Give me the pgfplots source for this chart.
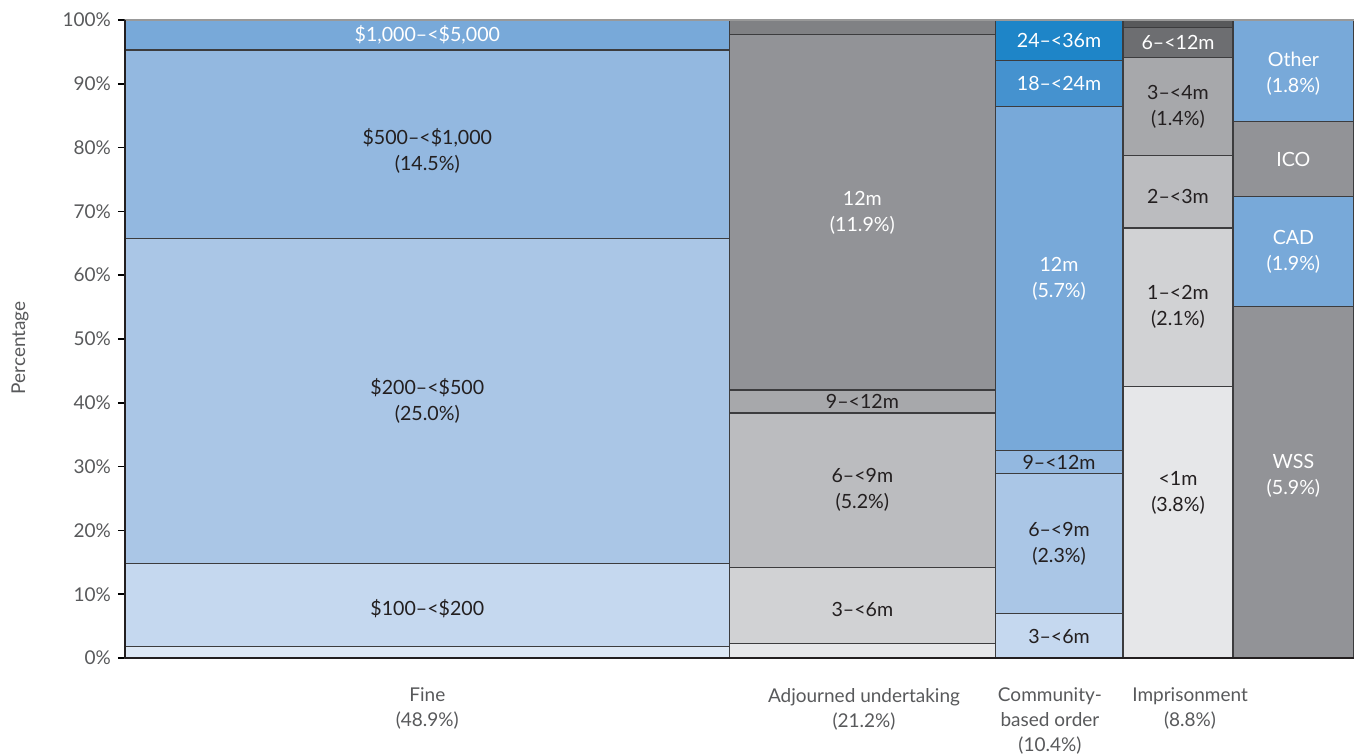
\documentclass[border=0pt]{standalone}
\usepackage{pgfplots}
\pgfplotsset{compat=1.18}
\usepackage{fontspec}
\setmainfont{Lato}
\definecolor{edgec}{HTML}{3C3C3E}
\definecolor{bA}{HTML}{DDE8F5}
\definecolor{bB}{HTML}{C5D8EF}
\definecolor{bC}{HTML}{AAC6E6}
\definecolor{bD}{HTML}{93B8E0}
\definecolor{bE}{HTML}{78A9D9}
\definecolor{bF}{HTML}{4592CF}
\definecolor{bG}{HTML}{1E85C8}
\definecolor{gA}{HTML}{E6E7E9}
\definecolor{gB}{HTML}{D1D2D4}
\definecolor{gC}{HTML}{BBBCBF}
\definecolor{gD}{HTML}{A7A8AB}
\definecolor{gE}{HTML}{929397}
\definecolor{gF}{HTML}{808184}
\definecolor{gG}{HTML}{6D6E71}
\definecolor{gH}{HTML}{58595B}
\definecolor{txt}{HTML}{231F20}
\definecolor{lbl}{HTML}{58595B}
\newcommand{\seg}[5]{\addplot[fill=#5, draw=edgec, line width=0.6pt] coordinates {(#1,#3) (#2,#3) (#2,#4) (#1,#4)} -- cycle;}
\begin{document}
\begin{tikzpicture}
\useasboundingbox (-62.5pt,-48.5pt) rectangle (614.5pt,329pt);
\begin{axis}[
  scale only axis, width=614.5pt, height=319pt,
  xmin=0, xmax=100, ymin=0, ymax=100,
  clip=false, no markers,
  axis line style={draw=none},
  font=\fontsize{9.5}{12.5}\selectfont,
  ytick={0,10,...,100},
  yticklabels={0\%,10\%,20\%,30\%,40\%,50\%,60\%,70\%,80\%,90\%,100\%},
  ytick pos=left, tick align=outside, major tick length=3.5pt,
  ytick style={black, line width=0.8pt},
  yticklabel style={text=lbl},
  xtick={24.6,60.13,75.26,86.66},
  xticklabels={{Fine\\(48.9\%)},{Adjourned undertaking\\(21.2\%)},{Community-\\based order\\(10.4\%)},{Imprisonment\\(8.8\%)}},
  xticklabel style={align=center, text=lbl, anchor=north, yshift=-8pt},
  xtick style={draw=none},
  ylabel={Percentage},
  ylabel style={at={(axis description cs:-0.0854,0.486)}, anchor=center, text=lbl},
]
% Fine
\seg{0}{49.2}{0}{1.8}{bA}
\seg{0}{49.2}{1.8}{14.8}{bB}
\seg{0}{49.2}{14.8}{65.7}{bC}
\seg{0}{49.2}{65.7}{95.3}{bD}
\seg{0}{49.2}{95.3}{100}{bE}
% Adjourned undertaking
\seg{49.2}{70.8}{0}{2.3}{gA}
\seg{49.2}{70.8}{2.3}{14.2}{gB}
\seg{49.2}{70.8}{14.2}{38.4}{gC}
\seg{49.2}{70.8}{38.4}{42.0}{gD}
\seg{49.2}{70.8}{42.0}{97.7}{gE}
\seg{49.2}{70.8}{97.7}{100}{gF}
% Community-based order
\seg{70.8}{81.2}{0}{7.0}{bB}
\seg{70.8}{81.2}{7.0}{28.9}{bC}
\seg{70.8}{81.2}{28.9}{32.5}{bD}
\seg{70.8}{81.2}{32.5}{86.4}{bE}
\seg{70.8}{81.2}{86.4}{93.6}{bF}
\seg{70.8}{81.2}{93.6}{100}{bG}
% Imprisonment
\seg{81.2}{90.15}{0}{42.6}{gA}
\seg{81.2}{90.15}{42.6}{67.4}{gB}
\seg{81.2}{90.15}{67.4}{78.8}{gC}
\seg{81.2}{90.15}{78.8}{94.1}{gD}
\seg{81.2}{90.15}{94.1}{98.8}{gG}
\seg{81.2}{90.15}{98.8}{100}{gH}
% Other orders
\seg{90.15}{100}{0}{55.1}{gE}
\seg{90.15}{100}{55.1}{72.3}{bE}
\seg{90.15}{100}{72.3}{84.1}{gE}
\seg{90.15}{100}{84.1}{100}{bE}
% axis lines
\draw[gray!80, line width=0.8pt] (rel axis cs:0,1) -- (rel axis cs:1,1);
\draw[txt, line width=1.1pt] (rel axis cs:0,0) -- (rel axis cs:1,0);
\draw[txt, line width=1.1pt] (rel axis cs:0,0) -- (rel axis cs:0,1);
% labels
\begin{scope}[every node/.style={align=center, text=txt, font=\fontsize{9.8}{13}\selectfont}]
\node[text=white] at (axis cs:24.6,97.65) {\$1,000--<\$5,000};
\node at (axis cs:24.6,79.5) {\$500--<\$1,000\\(14.5\%)};
\node at (axis cs:24.6,40.25) {\$200--<\$500\\(25.0\%)};
\node at (axis cs:24.6,7.7) {\$100--<\$200};
\node[text=white] at (axis cs:60.0,69.85) {12m\\(11.9\%)};
\node at (axis cs:60.0,40.2) {9--<12m};
\node at (axis cs:60.0,26.3) {6--<9m\\(5.2\%)};
\node at (axis cs:60.0,7.6) {3--<6m};
\node[text=white] at (axis cs:76.0,96.8) {24--<36m};
\node[text=white] at (axis cs:76.0,90.0) {18--<24m};
\node[text=white] at (axis cs:76.0,59.45) {12m\\(5.7\%)};
\node at (axis cs:76.0,30.7) {9--<12m};
\node at (axis cs:76.0,17.95) {6--<9m\\(2.3\%)};
\node at (axis cs:76.0,3.3) {3--<6m};
\node[text=white] at (axis cs:85.68,96.45) {6--<12m};
\node at (axis cs:85.68,86.45) {3--<4m\\(1.4\%)};
\node at (axis cs:85.68,72.3) {2--<3m};
\node at (axis cs:85.68,55.0) {1--<2m\\(2.1\%)};
\node at (axis cs:85.68,25.9) {<1m\\(3.8\%)};
\node[text=white] at (axis cs:95.07,91.6) {Other\\(1.8\%)};
\node[text=white] at (axis cs:95.07,78.2) {ICO};
\node[text=white] at (axis cs:95.07,63.7) {CAD\\(1.9\%)};
\node[text=white] at (axis cs:95.07,28.6) {WSS\\(5.9\%)};
\end{scope}
\end{axis}
\end{tikzpicture}
\end{document}
